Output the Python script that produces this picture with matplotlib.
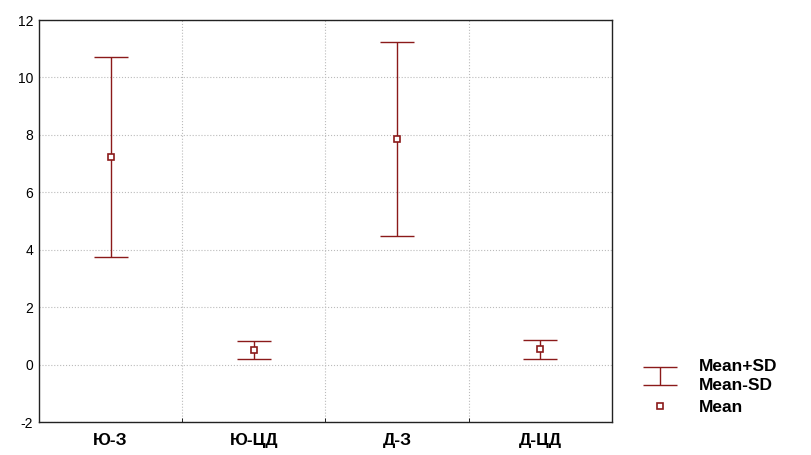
import numpy as np
import matplotlib
matplotlib.use("Agg")
import matplotlib.pyplot as plt

plt.rcParams['font.family'] = ['Liberation Sans', 'DejaVu Sans']
plt.rcParams['axes.unicode_minus'] = False

categories = ['Ю-З', 'Ю-ЦД', 'Д-З', 'Д-ЦД']
means = [7.23, 0.51, 7.85, 0.53]
sds = [3.47, 0.32, 3.37, 0.33]
y_ticks = [-2, 0, 2, 4, 6, 8, 10, 12]

red = '#8b1a1a'

fig = plt.figure(figsize=(8.11, 4.55), dpi=100)
ax = fig.add_axes([0.048, 0.0725, 0.7066, 0.8835])

x = np.arange(len(categories))
eb = ax.errorbar(x, means, yerr=sds, fmt='none', ecolor=red, elinewidth=1.0,
                 capsize=12, capthick=1.0)
mk, = ax.plot(x, means, 's', ms=5, mfc='white', mec=red, mew=1.2, ls='none')

ax.set_xlim(-0.5, len(categories) - 0.5)
ax.set_ylim(-2, 12)
ax.set_yticks(y_ticks)
ax.set_xticks(x)
ax.set_xticklabels(categories, fontsize=12.5, fontweight='bold')
ax.set_xticks(np.arange(0.5, len(categories) - 0.5), minor=True)
ax.tick_params(axis='x', which='major', length=0, pad=8)
ax.tick_params(axis='x', which='minor', length=3, direction='in')
ax.tick_params(axis='y', length=0, labelsize=10, pad=4)

ax.grid(True, which='minor', axis='x', color='#bbbbbb', ls=':', lw=0.8)
ax.grid(True, which='major', axis='y', color='#bbbbbb', ls=':', lw=0.8)
ax.set_axisbelow(True)
for s in ax.spines.values():
    s.set_color('#222222')
    s.set_linewidth(1.0)

leg = fig.legend([eb, mk], ['Mean+SD\nMean-SD', 'Mean'],
                 loc='upper left', bbox_to_anchor=(0.763, 0.245),
                 frameon=False, prop={'weight': 'bold', 'size': 12.5},
                 handlelength=2.9, labelspacing=0.35, handletextpad=0.8)
for t in leg.get_texts():
    t.set_linespacing(1.35)

fig.savefig('out.png', dpi=100)
